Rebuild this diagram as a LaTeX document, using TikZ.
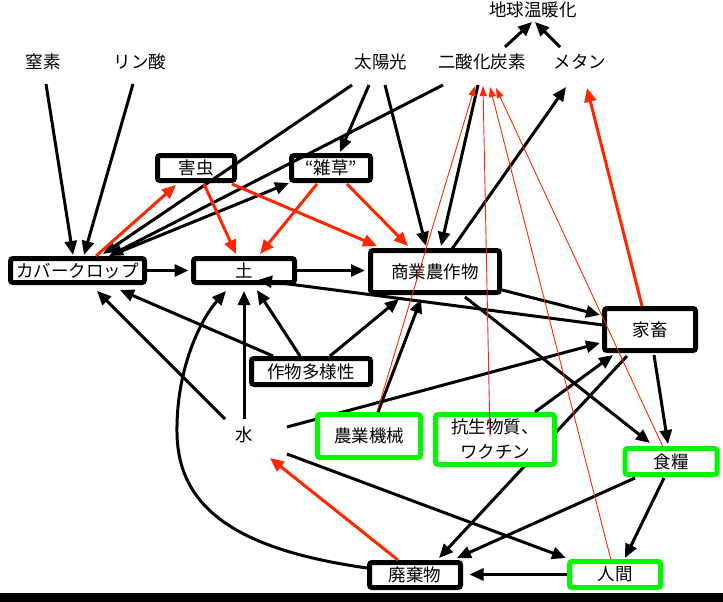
\documentclass[tikz,border=0pt]{standalone}
\usepackage{fontspec}
\setmainfont{Noto Sans CJK JP}
\usetikzlibrary{arrows.meta,calc}
\definecolor{gred}{RGB}{255,38,0}
\definecolor{ggreen}{RGB}{0,249,0}
\begin{document}
\begin{tikzpicture}[x=1pt,y=-1pt,
  font=\fontsize{17.5}{25}\selectfont,
  bbox/.style={draw=black,line width=5pt,rounded corners=2.5pt,fill=white,inner sep=0pt},
  gbox/.style={bbox,draw=ggreen},
  lbl/.style={inner sep=0pt},
  blk/.style={line width=3pt,-{Triangle[length=14pt,width=12pt]}},
  rthick/.style={draw=gred,line width=3pt,-{Triangle[length=14pt,width=12pt]}},
  rthin/.style={draw=gred,line width=0.9pt,-{Triangle[length=10pt,width=7pt]}},
]
\useasboundingbox (0,0) rectangle (723,602);
\fill[black] (0,593) rectangle (723,602);

% text labels
\node[lbl] (warm) at (533,10) {地球温暖化};
\node[lbl] (n2) at (43,62) {窒素};
\node[lbl] (phos) at (140,62) {リン酸};
\node[lbl] (sun) at (381,62) {太陽光};
\node[lbl] (co2) at (482,62) {二酸化炭素};
\node[lbl] (ch4) at (580,62) {メタン};
\node[lbl] (water) at (244,435) {水};

% coordinates of the boxes (named before drawing hidden edges)
\coordinate (livec) at (650,329.5);

% edges hidden behind boxes
\draw[blk] ($(water)+(43,-8)$) -- ($(livec)+(-50,13.5)$);
\draw[blk] ($(livec)+(-23,26.5)$) -- ($(415,575)+(24,-17)$);

% boxes
\node[bbox,minimum width=77pt,minimum height=25pt] (pest) at (196,168) {害虫};
\node[bbox,minimum width=79pt,minimum height=25pt] (weed) at (331,168) {“雑草”};
\node[bbox,minimum width=134pt,minimum height=24pt] (cc) at (77.5,270.5) {カバークロップ};
\node[bbox,minimum width=101pt,minimum height=24pt] (soil) at (244,270.5) {土};
\node[bbox,minimum width=129pt,minimum height=42pt] (crops) at (435,271.5) {商業農作物};
\node[bbox,minimum width=91pt,minimum height=42pt] (live) at (650,329.5) {家畜};
\node[bbox,minimum width=119pt,minimum height=26pt] (div) at (311,371.5) {作物多様性};
\node[gbox,minimum width=103pt,minimum height=43pt] (mach) at (369,436) {農業機械};
\node[gbox,minimum width=119pt,minimum height=50pt,align=center] (anti) at (495,439.5) {抗生物質、\\ワクチン};
\node[gbox,minimum width=92pt,minimum height=26pt] (food) at (671,461.5) {食糧};
\node[bbox,minimum width=91pt,minimum height=25pt] (waste) at (415,575) {廃棄物};
\node[gbox,minimum width=91pt,minimum height=26pt] (human) at (615,574.5) {人間};

% black edges
\draw[blk] ($(n2)+(3,22)$) -- ($(cc)+(-4.5,-15.5)$);
\draw[blk] ($(phos)+(-7,22)$) -- ($(cc)+(6.5,-15.5)$);
\draw[blk] ($(sun)+(-29,23)$) -- ($(cc)+(25.5,-16.5)$);
\draw[blk] ($(co2)+(-39,23)$) -- ($(cc)+(31.5,-14.5)$);
\draw[blk] ($(sun)+(-12,23)$) -- ($(weed)+(9,-16)$);
\draw[blk] ($(sun)+(4,23)$) -- ($(crops)+(-9,-25.5)$);
\draw[blk] ($(co2)+(-4,23)$) -- ($(crops)+(6,-25.5)$);
\draw[blk] ($(crops)+(17,-22.5)$) -- ($(ch4)+(-14,25)$);
\draw[blk] ($(co2)+(23,-15)$) -- ($(warm)+(-1,12)$);
\draw[blk] ($(ch4)+(-20,-15)$) -- ($(warm)+(2,12)$);
\draw[blk] ($(cc)+(34.5,-15.5)$) -- ($(weed)+(-42,15)$);
\draw[blk,shorten >=2.5pt] (cc.east) -- (soil.west);
\draw[blk,shorten >=3pt] (soil.east) -- (crops.west |- soil.east);
\draw[blk] ($(live)+(-47,-4.5)$) -- ($(soil)+(14,9.5)$);
\draw[blk] ($(crops)+(67,18.5)$) -- ($(live)+(-50,-14.5)$);
\draw[blk] ($(crops)+(30,25.5)$) -- ($(food)+(-21,-18.5)$);
\draw[blk] ($(div)+(-38,-15.5)$) -- ($(cc)+(42.5,19.5)$);
\draw[blk] ($(div)+(-11,-15.5)$) -- ($(soil)+(13,19.5)$);
\draw[blk] ($(div)+(19,-15.5)$) -- ($(crops)+(-36,27.5)$);
\draw[blk] ($(water)+(-19,-16)$) -- ($(cc)+(19.5,20.5)$);
\draw[blk] ($(water)+(0,-16)$) -- ($(soil)+(0,20.5)$);
\draw[blk] ($(water)+(43,19)$) -- ($(human)+(-49,-16.5)$);
\draw[blk] ($(mach)+(9,-24)$) -- ($(crops)+(-14,27.5)$);
\draw[blk] ($(anti)+(40,-27.5)$) -- ($(live)+(-37,25.5)$);
\draw[blk] ($(live)+(4,25.5)$) -- ($(food)+(-3,-17.5)$);
\draw[blk] ($(food)+(-36,16.5)$) -- ($(waste)+(42,-17)$);
\draw[blk] ($(food)+(-7,16.5)$) -- ($(human)+(10,-16.5)$);
\draw[blk,shorten >=6.5pt] (human.west) -- (waste.east |- human.west);
\draw[blk] ($(waste)+(-48,-7)$) .. controls (240,550) and (178,510) .. (177,433)
  .. controls (176,370) and (200,320) .. ($(soil)+(-18,20.5)$);

% red thick edges
\draw[rthick] ($(cc)+(18.5,-14.5)$) -- ($(pest)+(-20,17)$);
\draw[rthick] ($(pest)+(8,16)$) -- ($(soil)+(-8,-16.5)$);
\draw[rthick] ($(pest)+(36,16)$) -- ($(crops)+(-58,-25.5)$);
\draw[rthick] ($(weed)+(16,16)$) -- ($(crops)+(-27,-25.5)$);
\draw[rthick] ($(weed)+(-14,16)$) -- ($(soil)+(16,-16.5)$);
\draw[rthick] ($(live)+(-8,-23.5)$) -- ($(ch4)+(7,26)$);
\draw[rthick] ($(waste)+(-17,-15)$) -- ($(water)+(26,23)$);

% red thin edges
\draw[rthin] ($(mach)+(8,-24)$) -- ($(co2)+(-7,24)$);
\draw[rthin] ($(anti)+(-5,-2.5)$) -- ($(co2)+(1,24)$);
\draw[rthin] ($(human)+(-4,-14.5)$) -- ($(co2)+(8,25)$);
\draw[rthin] ($(food)+(-8,-14.5)$) -- ($(co2)+(14,26)$);
\end{tikzpicture}
\end{document}
